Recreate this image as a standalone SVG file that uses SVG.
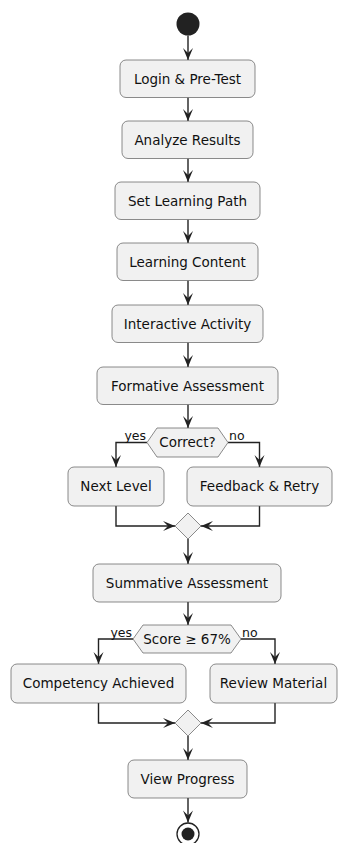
<svg xmlns="http://www.w3.org/2000/svg" width="339" height="843" viewBox="0 0 339 843">
<defs>
<style>
.box{fill:#F1F1F1;stroke:#5a5a5a;stroke-width:0.7}
.t{font-family:"DejaVu Sans",Verdana,sans-serif;font-size:13.5px;fill:#111;text-anchor:middle}
.lbl{font-family:"DejaVu Sans",Verdana,sans-serif;font-size:12.5px;fill:#111}
.c{fill:none;stroke:#222222;stroke-width:1.4;marker-end:url(#arr)}
</style>
<marker id="arr" viewBox="-13 -7 14 14" refX="0" refY="0" markerWidth="14" markerHeight="14" markerUnits="userSpaceOnUse" orient="auto">
<path d="M0,0 L-12,-5 L-7,0 L-12,5 Z" fill="#222222"/>
</marker>
</defs>
<rect width="339" height="843" fill="#FFFFFF"/>
<g id="connectors">
<path class="c" d="M188,35.5 V60"/>
<path class="c" d="M188,97.5 V121"/>
<path class="c" d="M188,158.5 V182"/>
<path class="c" d="M188,219.5 V243"/>
<path class="c" d="M188,280.5 V305"/>
<path class="c" d="M188,342.5 V367"/>
<path class="c" d="M188,404.5 V428"/>
<path class="c" d="M147,442.5 H116 V467"/>
<path class="c" d="M228,442.5 H259.5 V467"/>
<path class="c" d="M116,506 V526 H175"/>
<path class="c" d="M259.5,506 V526 H201"/>
<path class="c" d="M188,539 V564"/>
<path class="c" d="M188,602 V625"/>
<path class="c" d="M133,639 H98.5 V664"/>
<path class="c" d="M241,639 H275 V664"/>
<path class="c" d="M98.5,703 V723 H175"/>
<path class="c" d="M275,703 V723 H201"/>
<path class="c" d="M188,736 V760"/>
<path class="c" d="M188,798 V822.5"/>
</g>
<g id="start"><circle cx="188" cy="24" r="11.5" fill="#222222"/></g>
<g id="n1"><rect class="box" x="120" y="60" width="135" height="37.5" rx="6"/><text class="t" x="187.5" y="83.5">Login &amp; Pre-Test</text></g>
<g id="n2"><rect class="box" x="122" y="121" width="131" height="37.5" rx="6"/><text class="t" x="187.5" y="144.5">Analyze Results</text></g>
<g id="n3"><rect class="box" x="115" y="182" width="145" height="37.5" rx="6"/><text class="t" x="187.5" y="205.5">Set Learning Path</text></g>
<g id="n4"><rect class="box" x="117" y="243" width="141" height="37.5" rx="6"/><text class="t" x="187.5" y="266.5">Learning Content</text></g>
<g id="n5"><rect class="box" x="112" y="305" width="151" height="37.5" rx="6"/><text class="t" x="187.5" y="328.5">Interactive Activity</text></g>
<g id="n6"><rect class="box" x="97" y="367" width="181" height="37.5" rx="6"/><text class="t" x="187.5" y="390.5">Formative Assessment</text></g>
<g id="d1"><polygon class="box" points="147,442.5 157,428 218,428 228,442.5 218,457 157,457"/><text class="t" x="187.5" y="447">Correct?</text>
<text class="lbl" x="146" y="440" text-anchor="end">yes</text><text class="lbl" x="229" y="440">no</text></g>
<g id="n7"><rect class="box" x="68" y="467" width="96" height="39" rx="6"/><text class="t" x="116" y="491">Next Level</text></g>
<g id="n8"><rect class="box" x="187" y="467" width="145" height="39" rx="6"/><text class="t" x="259.5" y="491">Feedback &amp; Retry</text></g>
<g id="m1"><polygon class="box" points="188,513 201,526 188,539 175,526"/></g>
<g id="n9"><rect class="box" x="93" y="564" width="188" height="38" rx="6"/><text class="t" x="187" y="587.5">Summative Assessment</text></g>
<g id="d2"><polygon class="box" points="133,639 143,625 231,625 241,639 231,653 143,653"/><text class="t" x="187" y="643.5">Score ≥ 67%</text>
<text class="lbl" x="132" y="637" text-anchor="end">yes</text><text class="lbl" x="242" y="637">no</text></g>
<g id="n10"><rect class="box" x="11" y="664" width="175" height="39" rx="6"/><text class="t" x="98.5" y="688">Competency Achieved</text></g>
<g id="n11"><rect class="box" x="210" y="664" width="127" height="39" rx="6"/><text class="t" x="273.5" y="688">Review Material</text></g>
<g id="m2"><polygon class="box" points="188,710 201,723 188,736 175,723"/></g>
<g id="n12"><rect class="box" x="128" y="760" width="119" height="38" rx="6"/><text class="t" x="187.5" y="783.5">View Progress</text></g>
<g id="end"><circle cx="188" cy="834" r="11" fill="none" stroke="#222222" stroke-width="1.3"/><circle cx="188" cy="834" r="6.5" fill="#222222"/></g>
</svg>
